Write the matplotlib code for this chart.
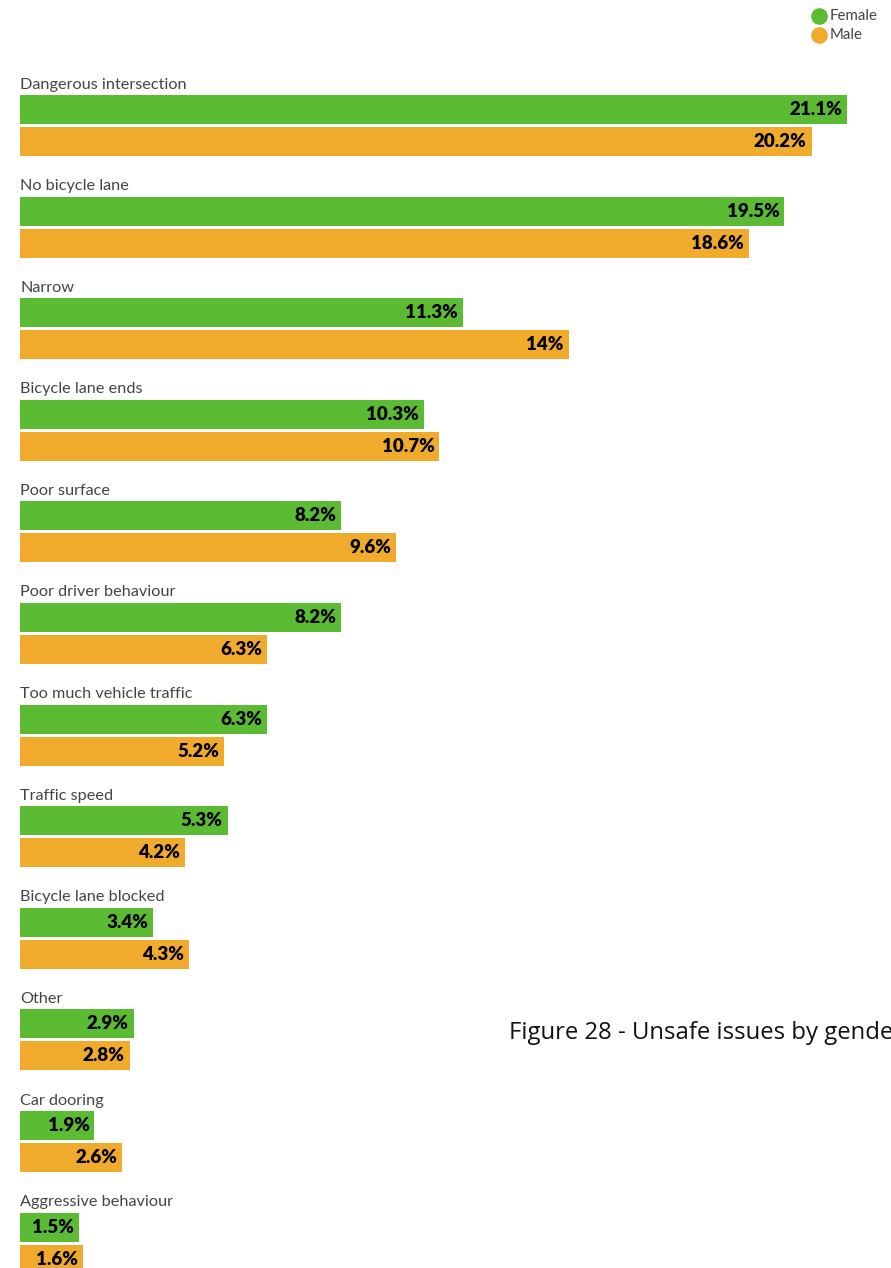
import matplotlib.pyplot as plt

categories = [
    "Dangerous intersection", "No bicycle lane", "Narrow", "Bicycle lane ends",
    "Poor surface", "Poor driver behaviour", "Too much vehicle traffic",
    "Traffic speed", "Bicycle lane blocked", "Other", "Car dooring",
    "Aggressive behaviour",
]
female = [21.1, 19.5, 11.3, 10.3, 8.2, 8.2, 6.3, 5.3, 3.4, 2.9, 1.9, 1.5]
male = [20.2, 18.6, 14, 10.7, 9.6, 6.3, 5.2, 4.2, 4.3, 2.8, 2.6, 1.6]
female_labels = ["21.1%", "19.5%", "11.3%", "10.3%", "8.2%", "8.2%", "6.3%",
                 "5.3%", "3.4%", "2.9%", "1.9%", "1.5%"]
male_labels = ["20.2%", "18.6%", "14%", "10.7%", "9.6%", "6.3%", "5.2%",
               "4.2%", "4.3%", "2.8%", "2.6%", "1.6%"]

GREEN = "#5bbc34"
ORANGE = "#f0ab2d"

W, H = 891, 1268
px_per = 827 / 21.1          # pixels per percent point
pitch = 101.6                # pixels per category row
top = 83                     # pixel y of the first category label

fig = plt.figure(figsize=(W / 100, H / 100), dpi=100)
ax = fig.add_axes([0, 0, 1, 1])
ax.set_xlim(-20 / px_per, (W - 20) / px_per)
ax.set_ylim((H - top) / pitch, -top / pitch)
ax.axis("off")

bar_h = 29 / pitch
off_f = 26.5 / pitch
off_m = 58.5 / pitch
pad = 5 / px_per

for i, cat in enumerate(categories):
    ax.text(0, i + 1.5 / pitch, cat, ha="left", va="center", fontsize=11.7,
            family="Lato", color="#444444")
    ax.barh(i + off_f, female[i], height=bar_h, left=0, color=GREEN)
    ax.barh(i + off_m, male[i], height=bar_h, left=0, color=ORANGE)
    ax.text(female[i] - pad, i + off_f, female_labels[i], ha="right",
            va="center", fontsize=13.5, fontweight="heavy", family="Lato",
            color="black")
    ax.text(male[i] - pad, i + off_m, male_labels[i], ha="right",
            va="center", fontsize=13.5, fontweight="heavy", family="Lato",
            color="black")

# legend in the top right corner
for j, (name, col) in enumerate([("Female", GREEN), ("Male", ORANGE)]):
    yy = 1 - (16 + 19 * j) / H
    ax.plot([819 / W], [yy], marker="o", markersize=11, color=col,
            transform=fig.transFigure, clip_on=False)
    fig.text(830 / W, yy, name, ha="left", va="center", fontsize=10.8,
             family="Lato", color="#444444")

fig.text(509 / W, 1 - 1033 / H, "Figure 28 - Unsafe issues by gender",
         ha="left", va="center", fontsize=17.2, family="Open Sans",
         color="#111111")

fig.savefig("out.png", dpi=100)
